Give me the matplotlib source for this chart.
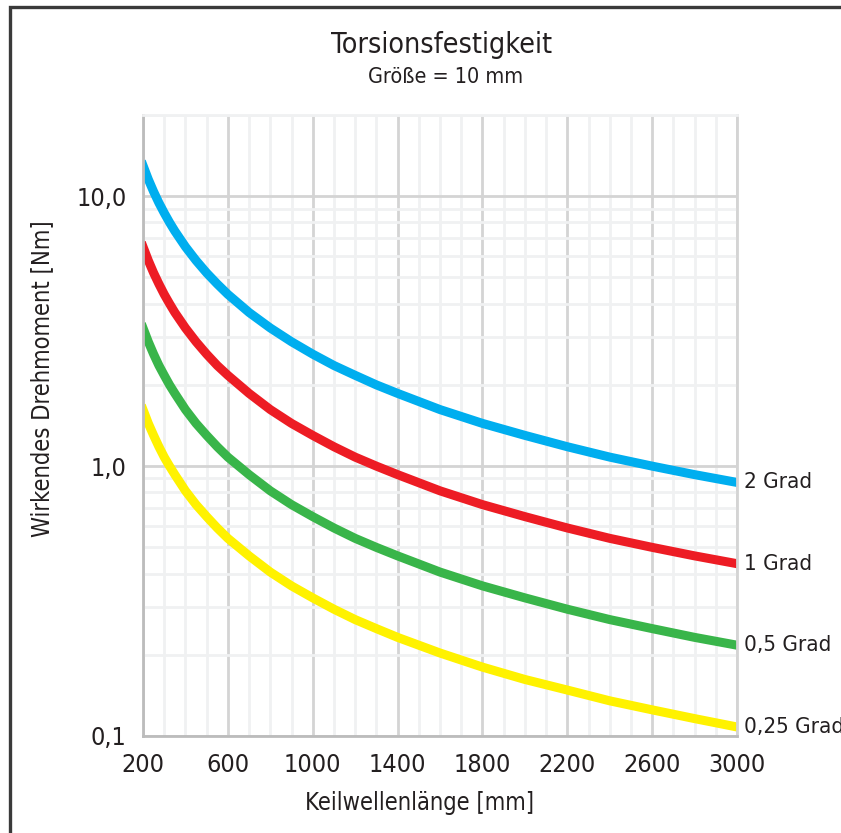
import matplotlib.pyplot as plt
from matplotlib import font_manager as fm
from matplotlib.patches import Rectangle
from matplotlib.ticker import FixedLocator, NullFormatter

# the original uses a condensed face; take a narrow one if there is one
schmal = [f for f in fm.fontManager.ttflist
          if ('Narrow' in f.name or 'Condensed' in f.name
              or str(f.stretch) in ('condensed', 'semi-condensed', '500', '600'))
          and f.style == 'normal' and f.weight in (400, 'normal', 'regular')]
if schmal:
    plt.rcParams['font.family'] = [schmal[0].name, 'DejaVu Sans']
    plt.rcParams['font.stretch'] = schmal[0].stretch
else:
    plt.rcParams['font.family'] = ['Roboto', 'DejaVu Sans']

# Keilwellenlaenge [mm]
laenge = [200, 225, 250, 275, 300, 325, 350, 400, 450, 500, 550, 600, 700, 800,
          900, 1000, 1100, 1200, 1300, 1400, 1600, 1800, 2000, 2200, 2400, 2600,
          2800, 3000]

# Wirkendes Drehmoment [Nm]
grad_2 = [13.0, 11.55, 10.4, 9.45, 8.67, 8.0, 7.43, 6.5, 5.78, 5.2, 4.73, 4.33, 3.71, 3.25,
          2.89, 2.6, 2.36, 2.17, 2.0, 1.86, 1.62, 1.44, 1.3, 1.18, 1.08, 1.0,
          0.93, 0.87]
grad_1 = [6.5, 5.78, 5.2, 4.73, 4.33, 4.0, 3.71, 3.25, 2.89, 2.6, 2.36, 2.17, 1.86, 1.62,
          1.44, 1.3, 1.18, 1.08, 1.0, 0.93, 0.81, 0.72, 0.65, 0.59, 0.54, 0.5,
          0.465, 0.435]
grad_05 = [3.25, 2.89, 2.6, 2.36, 2.17, 2.0, 1.86, 1.62, 1.44, 1.3, 1.18, 1.08, 0.93, 0.81,
           0.72, 0.65, 0.59, 0.54, 0.5, 0.465, 0.405, 0.36, 0.325, 0.295, 0.27, 0.25,
           0.232, 0.217]
grad_025 = [1.62, 1.44, 1.3, 1.18, 1.08, 1.0, 0.93, 0.81, 0.72, 0.65, 0.59, 0.54, 0.465, 0.405,
            0.36, 0.325, 0.295, 0.27, 0.25, 0.232, 0.203, 0.18, 0.162, 0.148, 0.135, 0.125,
            0.116, 0.108]

serien = [('2 Grad', grad_2, '#00aeef'),
          ('1 Grad', grad_1, '#ed1c24'),
          ('0,5 Grad', grad_05, '#39b54a'),
          ('0,25 Grad', grad_025, '#fff200')]

x_ticks = [200, 600, 1000, 1400, 1800, 2200, 2600, 3000]
y_ticks = [0.1, 1.0, 10.0]
y_labels = ['0,1', '1,0', '10,0']

fig = plt.figure(figsize=(8.41, 8.33), dpi=100)
ax = fig.add_axes([143 / 841, 1 - 736 / 833, 594 / 841, 621 / 833])

# outer frame, only left and top edge visible in the image
fig.patches.append(Rectangle((10 / 841, -0.2), 1.5, 1.2 - 7 / 833, transform=fig.transFigure,
                             fill=False, edgecolor='#3a3a3a', linewidth=2.4, zorder=0))

ax.set_yscale('log')
ax.set_xlim(200, 3000)
ax.set_ylim(0.1, 20)

# grid
ax.set_xticks(x_ticks)
ax.xaxis.set_minor_locator(FixedLocator(range(200, 3001, 100)))
minor_y = [m * d for d in (0.1, 1, 10) for m in range(2, 10)] + [20]
ax.yaxis.set_minor_locator(FixedLocator(minor_y))
ax.yaxis.set_minor_formatter(NullFormatter())
ax.set_yticks(y_ticks)
ax.set_yticklabels(y_labels)
ax.grid(which='minor', color='#f0f1f2', linewidth=2)
ax.grid(which='major', color='#d4d4d4', linewidth=2)
ax.set_axisbelow(True)
ax.tick_params(which='both', length=0)
ax.tick_params(axis='x', pad=12, labelsize=18, colors='#231f20')
ax.tick_params(axis='y', pad=12, labelsize=18, colors='#231f20')

for side in ('left', 'bottom'):
    ax.spines[side].set_color('#bcbcbc')
    ax.spines[side].set_linewidth(2)
ax.spines['right'].set_color('#d4d4d4')
ax.spines['right'].set_linewidth(2)
ax.spines['top'].set_color('#f0f1f2')
ax.spines['top'].set_linewidth(2)

for name, werte, farbe in serien:
    ax.plot(laenge, werte, color=farbe, linewidth=6.5, solid_capstyle='projecting',
            solid_joinstyle='round')
    ax.annotate(name, (laenge[-1], werte[-1]), xytext=(5, 0), textcoords='offset points',
                va='center', ha='left', fontsize=16, color='#231f20', annotation_clip=False)

ax.set_xlabel('Keilwellenlänge [mm]', fontsize=17, color='#231f20')
ax.xaxis.set_label_coords(0.465, -0.088)
ax.set_ylabel('Wirkendes Drehmoment [Nm]', fontsize=17, color='#231f20')
ax.yaxis.set_label_coords(-0.15, 0.576)

fig.text(442 / 841, 1 - 45 / 833, 'Torsionsfestigkeit', ha='center', va='center',
         fontsize=20.5, color='#231f20')
fig.text(446 / 841, 1 - 77 / 833, 'Größe = 10 mm', ha='center', va='center',
         fontsize=15.5, color='#231f20')

fig.savefig('out.png', dpi=100, facecolor='white')
